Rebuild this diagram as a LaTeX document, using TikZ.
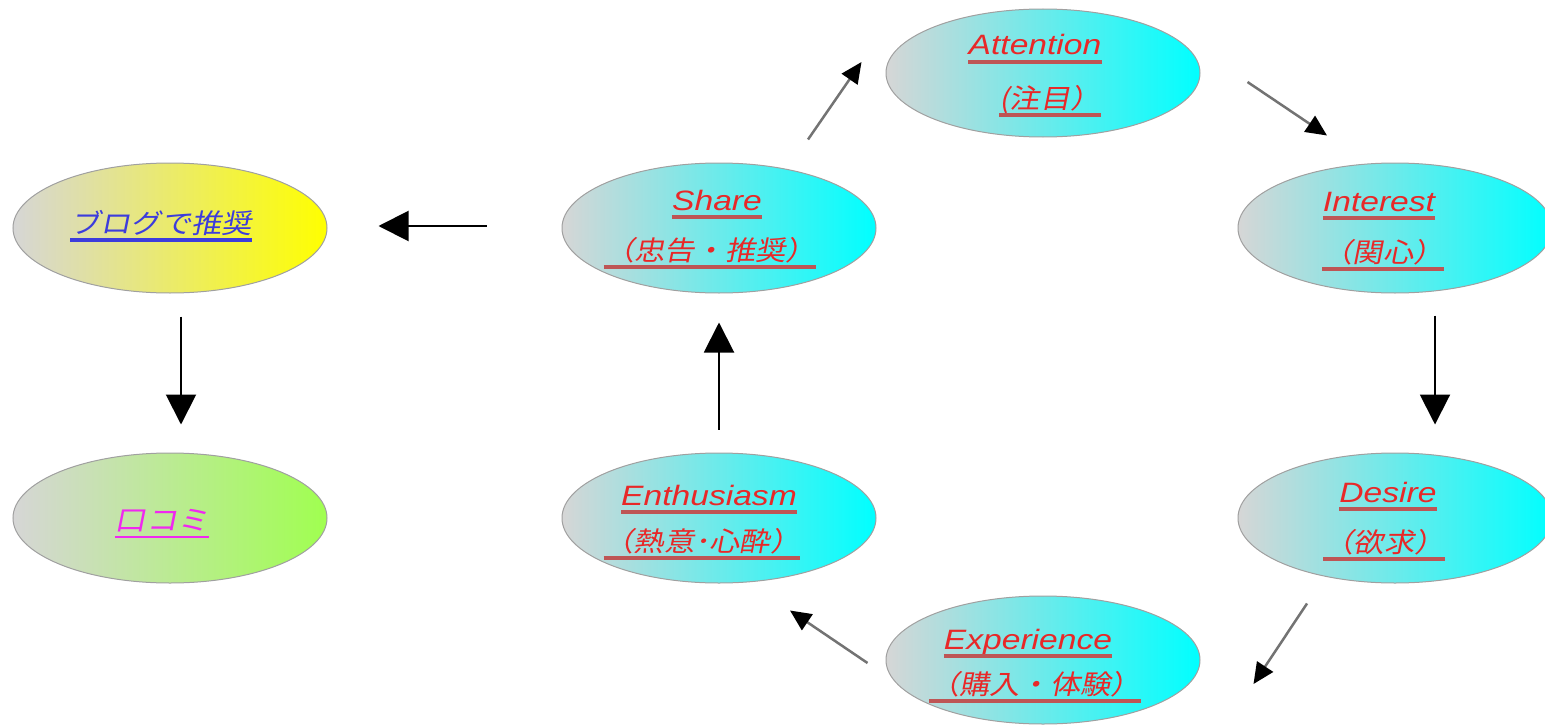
\documentclass[tikz,border=0pt]{standalone}
\usepackage{fontspec}
\usetikzlibrary{shapes.geometric,arrows.meta}
\newfontfamily\latf[FakeStretch=1.2]{Liberation Sans}
\newfontfamily\jpf[FakeSlant=0.2,FakeStretch=1.12]{Noto Sans CJK JP}
\newcommand\latxt{\latf\itshape\fontsize{28}{30}\selectfont}
\newcommand\jptxt{\jpf\fontsize{27}{30}\selectfont}
\definecolor{txtred}{RGB}{232,40,40}
\definecolor{ulred}{RGB}{190,85,85}
\definecolor{bord}{RGB}{160,160,160}
\definecolor{lgray}{RGB}{214,214,214}
\definecolor{bluet}{RGB}{60,60,220}
\definecolor{magt}{RGB}{240,40,240}
\definecolor{lgreen}{RGB}{160,255,80}
\tikzset{
  bubble/.style={ellipse, draw=bord, line width=1pt, minimum width=314pt, minimum height=130pt, inner sep=0pt, left color=lgray},
  cyanb/.style={bubble, right color=cyan},
  lbl/.style={inner sep=0pt, anchor=base, text=txtred},
  ul/.style={line width=3.5pt, draw=ulred},
  diag/.style={draw=black!55, line width=2.5pt, -{Triangle[length=21pt,width=19pt,color=black]}},
  big/.style={draw=black, line width=2pt, -{Triangle[length=30pt,width=30pt]}}
}
\begin{document}
\begin{tikzpicture}[x=1pt,y=-1pt]
\useasboundingbox (0,0) rectangle (1545,725);
\clip (0,0) rectangle (1545,725);
% ellipses
\node[cyanb, minimum height=128pt] (attention) at (1043,73) {};
\node[cyanb] (share) at (719,228) {};
\node[cyanb] (interest) at (1395,228) {};
\node[cyanb] (desire) at (1395,518) {};
\node[cyanb, minimum height=128pt] (experience) at (1043,660) {};
\node[cyanb] (enthusiasm) at (719,518) {};
\node[bubble, right color=yellow] (blog) at (170,228) {};
\node[bubble, right color=lgreen] (kuchi) at (170,518) {};
% labels
\node[lbl] (t1a) at (1035,55) {\latxt Attention};
\node[lbl] (t1b) at (1050,108) {\jptxt (注目）};
\node[lbl] (t2a) at (717,210) {\latxt Share};
\node[lbl] (t2b) at (710,260) {\jptxt （忠告・推奨）};
\node[lbl] (t3a) at (1379,211) {\latxt Interest};
\node[lbl] (t3b) at (1383,262) {\jptxt （関心）};
\node[lbl] (t4a) at (1388,502) {\latxt Desire};
\node[lbl] (t4b) at (1384,552) {\jptxt （欲求）};
\node[lbl] (t5a) at (1028,649) {\latxt Experience};
\node[lbl] (t5b) at (1035,694) {\jptxt （購入・体験）};
\node[lbl] (t6a) at (709,505) {\latxt Enthusiasm};
\node[lbl] (t6b) at (702,551) {\jptxt （熱意･心酔）};
\node[lbl, text=bluet] (t7) at (161,233) {\jptxt ブログで推奨};
\node[lbl, text=magt] (t8) at (162,530) {\jpf\fontsize{28}{30}\selectfont 口コミ};
\foreach \t in {t1a,t1b,t2a,t2b,t3a,t3b,t4a,t4b,t5a,t5b,t6a,t6b}
  \draw[ul] ([yshift=-7pt]\t.base west) -- ([yshift=-7pt]\t.base east);
\draw[ul, draw=bluet] ([yshift=-7pt]t7.base west) -- ([yshift=-7pt]t7.base east);
\draw[ul, draw=magt, line width=2.5pt] ([yshift=-7pt]t8.base west) -- ([yshift=-7pt]t8.base east);
% arrows
\draw[diag] ([shift={(89,-23)}]share.north) -- ([shift={(-24,-11)}]attention.west);
\draw[diag] ([shift={(47,9)}]attention.east) -- ([shift={(-68,-27)}]interest.north);
\draw[big] ([shift={(40,22)}]interest.south) -- ([shift={(40,-28)}]desire.north);
\draw[diag] ([shift={(-88,20)}]desire.south) -- ([shift={(53,24)}]experience.east);
\draw[diag] ([shift={(-18,3)}]experience.west) -- ([shift={(71,27)}]enthusiasm.south);
\draw[big] ([shift={(0,-23)}]enthusiasm.north) -- ([shift={(0,29)}]share.south);
\draw[big] ([shift={(-75,-2)}]share.west) -- ([shift={(51,-2)}]blog.east);
\draw[big] ([shift={(11,23)}]blog.south) -- ([shift={(11,-28)}]kuchi.north);
\end{tikzpicture}
\end{document}
